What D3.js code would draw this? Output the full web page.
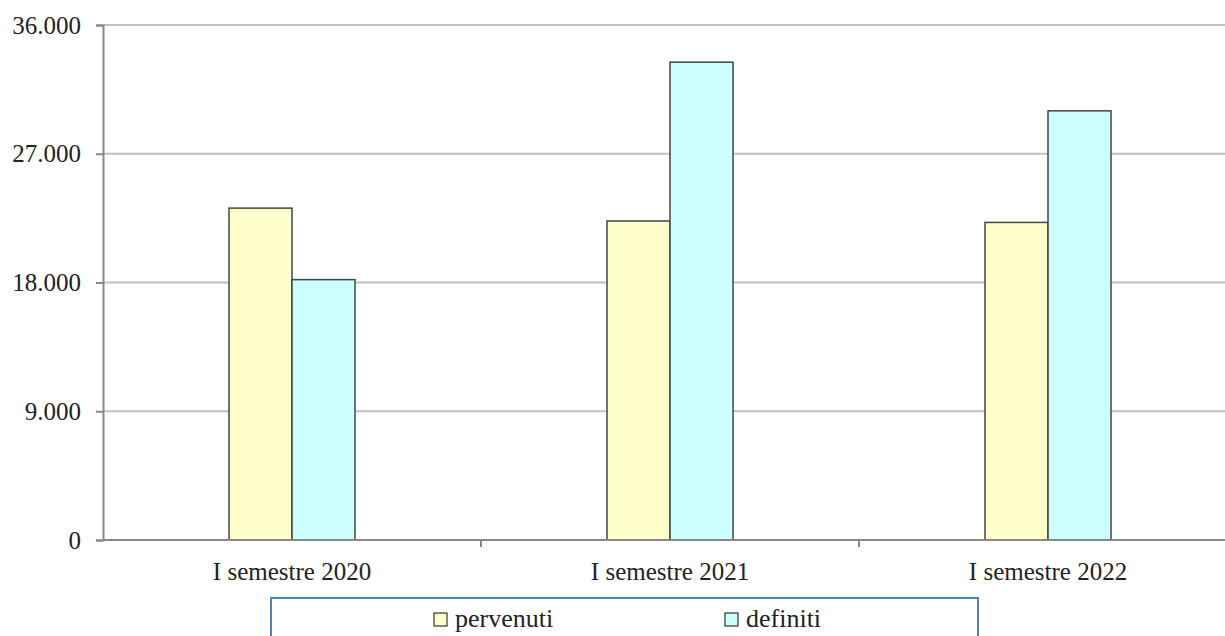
<!DOCTYPE html>
<html><head><meta charset="utf-8">
<script src="https://cdn.jsdelivr.net/npm/d3@7"></script>
<style>html,body{margin:0;padding:0;background:#fff;overflow:hidden}
svg text{font-family:"Liberation Serif",serif;font-size:25px;fill:#222}</style>
</head><body>
<svg id="chart" width="1225" height="636"></svg>
<script>
const categories = ["I semestre 2020", "I semestre 2021", "I semestre 2022"];
const seriesNames = ["pervenuti", "definiti"];
const pervenuti = [23200, 22300, 22200];
const definiti = [18200, 33400, 30000];
const tickValues = [0, 9000, 18000, 27000, 36000];
const tickLabels = ["0", "9.000", "18.000", "27.000", "36.000"];
const colors = ["#FFFFCC", "#CCFFFF"];

const svg = d3.select("#chart");
const x0 = d3.scaleBand().domain(categories).range([103, 1237]).paddingInner(0).paddingOuter(0);
const x1 = d3.scaleBand().domain(seriesNames).range([0, x0.bandwidth() / 3]);
const y = d3.scaleLinear().domain([0, 36000]).range([540, 25]);

svg.append("g").selectAll("line").data(tickValues.filter(v => v > 0)).join("line")
  .attr("x1", 103).attr("x2", 1225)
  .attr("y1", d => y(d)).attr("y2", d => y(d))
  .attr("stroke", "#c0c0c0").attr("stroke-width", 2);

const yAxis = d3.axisLeft(y).tickValues(tickValues).tickSize(7).tickPadding(15)
  .tickFormat((d, i) => tickLabels[i]);
const gy = svg.append("g").attr("transform", "translate(103,0)").call(yAxis);
gy.attr("font-family", null).attr("font-size", null);
gy.select(".domain").attr("stroke", "#888").attr("stroke-width", 2);
gy.selectAll(".tick line").attr("stroke", "#888").attr("stroke-width", 2);

const data = categories.map((c, i) => ({cat: c, vals: [pervenuti[i], definiti[i]]}));
const groups = svg.append("g").selectAll("g").data(data).join("g")
  .attr("transform", d => `translate(${x0(d.cat) + x0.bandwidth() / 2 - x0.bandwidth() / 6},0)`);
groups.selectAll("rect").data(d => d.vals.map((v, j) => ({name: seriesNames[j], v, j}))).join("rect")
  .attr("x", d => x1(d.name)).attr("width", x1.bandwidth())
  .attr("y", d => y(d.v)).attr("height", d => y(0) - y(d.v))
  .attr("fill", d => colors[d.j]).attr("stroke", "#444").attr("stroke-width", 1.5);

const xAxis = d3.axisBottom(x0).tickSize(0).tickPadding(22);
const gx = svg.append("g").attr("transform", "translate(0,540)").call(xAxis);
gx.attr("font-family", null).attr("font-size", null);
gx.select(".domain").remove();
svg.append("line").attr("x1", 103).attr("x2", 1225).attr("y1", 540).attr("y2", 540)
  .attr("stroke", "#888").attr("stroke-width", 2);
svg.append("g").selectAll("line").data(categories.slice(1)).join("line")
  .attr("x1", d => x0(d)).attr("x2", d => x0(d)).attr("y1", 540).attr("y2", 547)
  .attr("stroke", "#888").attr("stroke-width", 2);

const lg = svg.append("g");
lg.append("rect").attr("x", 271).attr("y", 598).attr("width", 707).attr("height", 80)
  .attr("fill", "#fff").attr("stroke", "#4F81BD").attr("stroke-width", 2);
const legX = [434, 725];
seriesNames.forEach((n, i) => {
  lg.append("rect").attr("x", legX[i]).attr("y", 613).attr("width", 13).attr("height", 13)
    .attr("fill", colors[i]).attr("stroke", "#333").attr("stroke-width", 1.2);
  lg.append("text").attr("x", legX[i] + 21).attr("y", 627).style("font-size", "26px").text(n);
});
</script>
</body></html>
